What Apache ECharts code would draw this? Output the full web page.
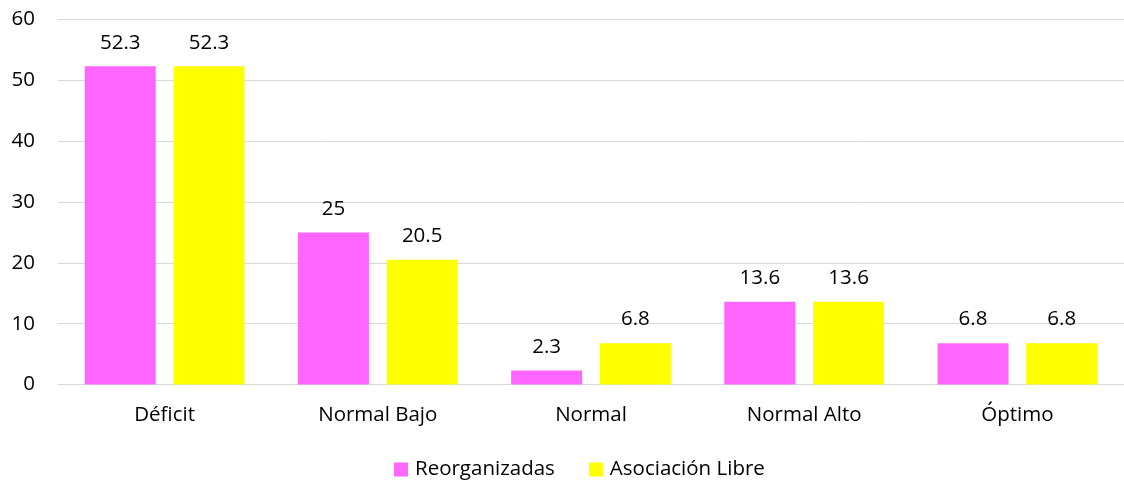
<!DOCTYPE html>
<html>
<head>
<meta charset="utf-8">
<script src="https://cdn.jsdelivr.net/npm/echarts@6/dist/echarts.min.js"></script>
<style>
html,body{margin:0;padding:0;background:#fff;}
#chart{width:1124px;height:480px;}
</style>
</head>
<body>
<div id="chart"></div>
<script>
const categories = ['Déficit', 'Normal Bajo', 'Normal', 'Normal Alto', 'Óptimo'];
const seriesNames = ['Reorganizadas', 'Asociación Libre'];
const reorganizadas = [52.3, 25, 2.3, 13.6, 6.8];
const asociacionLibre = [52.3, 20.5, 6.8, 13.6, 6.8];
const yTicks = { min: 0, max: 60, interval: 10 };

const FONT = '"Open Sans", sans-serif';
const FS = 20.5;
const chart = echarts.init(document.getElementById('chart'), null, { renderer: 'canvas' });
chart.setOption({
  animation: false,
  backgroundColor: '#ffffff',
  textStyle: { fontFamily: FONT },
  grid: { left: 58, right: 0, top: 19.5, bottom: 95.5, containLabel: false },
  legend: {
    data: seriesNames,
    top: 454,
    left: 389,
    itemWidth: 14,
    itemHeight: 14,
    itemGap: 34,
    icon: 'rect',
    textStyle: { fontFamily: FONT, fontSize: FS, color: '#000', padding: [0, 0, 0, 2] }
  },
  xAxis: {
    type: 'category',
    data: categories,
    axisLine: { show: true, lineStyle: { color: '#d9d9d9', width: 1 } },
    axisTick: { show: false },
    axisLabel: { fontFamily: FONT, fontSize: FS, color: '#000', margin: 20 },
    splitLine: { show: false }
  },
  yAxis: {
    type: 'value',
    min: yTicks.min,
    max: yTicks.max,
    interval: yTicks.interval,
    axisLine: { show: false },
    axisTick: { show: false },
    axisLabel: { fontFamily: FONT, fontSize: FS, color: '#000', margin: 23 },
    splitLine: { show: true, lineStyle: { color: '#d9d9d9', width: 1 } }
  },
  series: [
    {
      name: seriesNames[0],
      type: 'bar',
      data: reorganizadas,
      barWidth: 71,
      barGap: '25%',
      itemStyle: { color: '#ff66ff' },
      label: { show: true, position: 'top', distance: 13, fontFamily: FONT, fontSize: FS, color: '#000' }
    },
    {
      name: seriesNames[1],
      type: 'bar',
      data: asociacionLibre,
      barWidth: 71,
      barGap: '25%',
      itemStyle: { color: '#ffff00' },
      label: { show: true, position: 'top', distance: 13, fontFamily: FONT, fontSize: FS, color: '#000' }
    }
  ]
});
</script>
</body>
</html>
